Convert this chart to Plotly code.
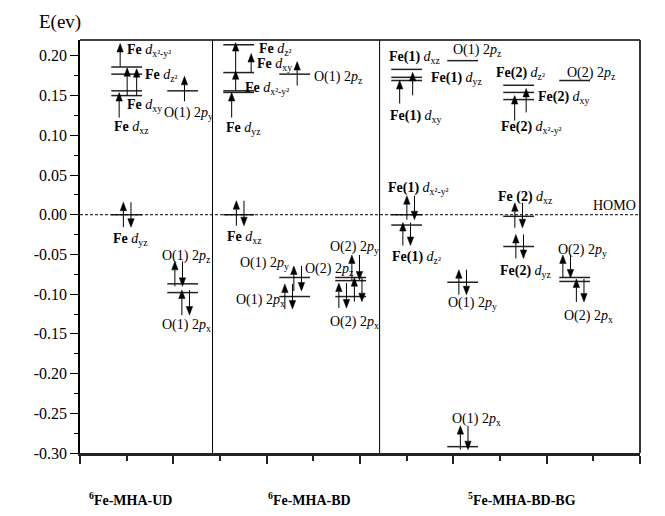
import plotly.graph_objects as go

# ---------------- data ----------------
group_labels = ["<b><sup>6</sup>Fe-MHA-UD</b>", "<b><sup>6</sup>Fe-MHA-BD</b>", "<b><sup>5</sup>Fe-MHA-BD-BG</b>"]
y_tick_values = [0.20, 0.15, 0.10, 0.05, 0.00, -0.05, -0.10, -0.15, -0.20, -0.25, -0.30]
y_tick_labels = ["0.20", "0.15", "0.10", "0.05", "0.00", "-0.05", "-0.10", "-0.15", "-0.20", "-0.25", "-0.30"]

# column index of each level (0-1: UD, 2-4: BD, 5-8: BD-BG)
level_column = [0, 0, 0, 0, 0, 1, 1, 1,
                2, 2, 2, 2, 2, 3, 3, 3, 4, 4, 4,
                5, 5, 5, 5, 5, 6, 6, 6, 7, 7, 7, 7, 7, 8, 8, 8]
level_label = [
    "<b>Fe</b> <i>d</i><sub>x²-y²</sub>", "<b>Fe</b> <i>d</i><sub>z²</sub>", "<b>Fe</b> <i>d</i><sub>xy</sub>",
    "<b>Fe</b> <i>d</i><sub>xz</sub>", "<b>Fe</b> <i>d</i><sub>yz</sub>",
    "O(1) 2<i>p</i><sub>y</sub>", "O(1) 2<i>p</i><sub>z</sub>", "O(1) 2<i>p</i><sub>x</sub>",
    "<b>Fe</b> <i>d</i><sub>z²</sub>", "<b>Fe</b> <i>d</i><sub>xy</sub>", "<b>Fe</b> <i>d</i><sub>x²-y²</sub>",
    "<b>Fe</b> <i>d</i><sub>yz</sub>", "<b>Fe</b> <i>d</i><sub>xz</sub>",
    "O(1) 2<i>p</i><sub>z</sub>", "O(1) 2<i>p</i><sub>y</sub>", "O(1) 2<i>p</i><sub>x</sub>",
    "O(2) 2<i>p</i><sub>y</sub>", "O(2) 2<i>p</i><sub>z</sub>", "O(2) 2<i>p</i><sub>x</sub>",
    "<b>Fe(1)</b> <i>d</i><sub>xz</sub>", "<b>Fe(1)</b> <i>d</i><sub>yz</sub>", "<b>Fe(1)</b> <i>d</i><sub>xy</sub>",
    "<b>Fe(1)</b> <i>d</i><sub>x²-y²</sub>", "<b>Fe(1)</b> <i>d</i><sub>z²</sub>",
    "O(1) 2<i>p</i><sub>z</sub>", "O(1) 2<i>p</i><sub>y</sub>", "O(1) 2<i>p</i><sub>x</sub>",
    "<b>Fe(2)</b> <i>d</i><sub>z²</sub>", "<b>Fe(2)</b> <i>d</i><sub>xy</sub>", "<b>Fe(2)</b> <i>d</i><sub>x²-y²</sub>",
    "<b>Fe (2)</b> <i>d</i><sub>xz</sub>", "<b>Fe(2)</b> <i>d</i><sub>yz</sub>",
    "O(2) 2<i>p</i><sub>z</sub>", "O(2) 2<i>p</i><sub>y</sub>", "O(2) 2<i>p</i><sub>x</sub>",
]
level_energy = [0.186, 0.177, 0.156, 0.150, 0.000, 0.156, -0.087, -0.098,
                0.214, 0.179, 0.156, 0.154, 0.000, 0.177, -0.079, -0.103, -0.079, -0.083, -0.103,
                0.183, 0.173, 0.169, 0.000, -0.013, 0.194, -0.085, -0.292,
                0.163, 0.154, 0.145, -0.002, -0.040, 0.169, -0.079, -0.084]
# occupation: "u" = spin up only, "ud" = paired, "" = empty
level_spin = ["u", "u", "u", "u", "ud", "u", "ud", "ud",
              "u", "u", "u", "u", "ud", "u", "ud", "ud", "ud", "ud", "ud",
              "", "u", "u", "ud", "ud", "", "ud", "ud",
              "", "u", "u", "ud", "ud", "", "ud", "ud"]

# ---------------- layout / style ----------------
column_x = [0.5, 1.1, 1.7, 2.3, 2.9, 3.5, 4.1, 4.7, 5.3]
divider_x = [1.42, 3.21]
group_x = [0.54, 2.455, 4.74]
half_width = 0.165

# label offsets in px relative to level centre (dx right, dy up)
label_offset = [(-2, 18.5), (16, 0.5), (-2, -12.5), (-15, -30), (-16, -22.7), (-21, -20.7), (-23, 29.4), (-23, -30.8),
                (18, -2.3), (16, 10), (4, 4.3), (-15, -33.6), (-14, -21.2), (17, -1.4), (-57, 16), (-61, -1.8),
                (-23, 32), (-47.5, 13.3), (-23, -23.8),
                (-20, 13.9), (22, 0.8), (-19, -33.5), (-20.5, 27.8), (-16.5, -30.4), (-12, 12.6), (-16.5, -19.6),
                (-13, 29.4), (-25, 13.8), (17, -2.8), (-20, -25.9), (-23, 20.4), (-21, -22.6), (-10, 9),
                (-19, 28.8), (-13, -33.2)]
# arrow offsets in px (dx, dy of arrow centre, arrow length)
arrow_offset = [(-6.5, 12, 23), (10, -8, 27), (0.5, 9, 28), (-7.5, -9.5, 25), (0.5, 0, 25), (1.8, 2, 25),
                (-4, 10, 25), (3, -10, 25),
                (-3, -12.8, 30), (12.5, 9.5, 19), (-3, 10, 20), (-7, -12.6, 25), (1.5, 1.5, 25), (2.5, 0.6, 24),
                (3, -1, 25), (-6, 0, 25), (5, 10, 25), (7.5, -9, 24), (-8, 1, 25),
                (0, 0, 0), (6, -6.5, 23), (-7, -11.5, 23), (4, 7, 24), (0, -9, 23), (0, 0, 0), (0, 0, 25),
                (1.5, 9, 24), (0, 0, 0), (7.5, -8, 24), (-4, -8.5, 25), (0, 1, 25), (1, 0, 24), (0, 0, 0),
                (-8, 11, 23), (5.5, -9, 23)]

X_MIN, X_MAX = 0, 6
Y_MIN, Y_MAX = -0.30, 0.22
W, H = 665, 516
ML, MR, MT, MB = 80, 25, 40, 63
PX_X = (X_MAX - X_MIN) / (W - ML - MR)
PX_Y = (Y_MAX - Y_MIN) / (H - MT - MB)

FONT = "Liberation Serif, Times New Roman, serif"

lvl_x, lvl_y = [], []
shaft_x, shaft_y, head_x, head_y = [], [], [], []


def add_arrow(xc, tail, tip):
    d = 1 if tip > tail else -1
    base = tip - d * 8.5 * PX_Y
    shaft_x.extend([xc, xc, None])
    shaft_y.extend([tail, base, None])
    head_x.extend([xc - 3.2 * PX_X, xc + 3.2 * PX_X, xc, xc - 3.2 * PX_X, None])
    head_y.extend([base, base, tip, base, None])


annotations = []
for col, lab, e, spin, (ldx, ldy), (adx, ady, alen) in zip(
        level_column, level_label, level_energy, level_spin, label_offset, arrow_offset):
    cx = column_x[col]
    lvl_x.extend([cx - half_width, cx + half_width, None])
    lvl_y.extend([e, e, None])
    ac = e + ady * PX_Y
    half = alen / 2 * PX_Y
    if spin == "u":
        add_arrow(cx + adx * PX_X, ac - half, ac + half)
    elif spin == "ud":
        add_arrow(cx + (adx - 3.8) * PX_X, ac - half, ac + half)
        add_arrow(cx + (adx + 3.8) * PX_X, ac + half, ac - half)
    annotations.append(dict(x=cx + ldx * PX_X, y=e + (ldy - 2) * PX_Y, text=lab, showarrow=False,
                            xanchor="left", yanchor="middle", xref="x", yref="y",
                            font=dict(family=FONT, size=14, color="black")))

fig = go.Figure()
fig.add_trace(go.Scatter(x=lvl_x, y=lvl_y, mode="lines", line=dict(color="#222", width=1.5),
                         hoverinfo="skip", showlegend=False))
fig.add_trace(go.Scatter(x=shaft_x, y=shaft_y, mode="lines", line=dict(color="black", width=1),
                         hoverinfo="skip", showlegend=False))
fig.add_trace(go.Scatter(x=head_x, y=head_y, mode="lines", fill="toself", fillcolor="black",
                         line=dict(color="black", width=0.5), hoverinfo="skip", showlegend=False))

shapes = [
    dict(type="line", xref="paper", yref="y", x0=0, x1=1, y0=0, y1=0,
         line=dict(color="black", width=1, dash="3px,2px")),
    dict(type="line", xref="paper", yref="paper", x0=0, x1=1, y0=1, y1=1, line=dict(color="black", width=1.3)),
    dict(type="line", xref="paper", yref="paper", x0=1, x1=1, y0=0, y1=1, line=dict(color="#333", width=2)),
]
for dx in divider_x:
    shapes.append(dict(type="line", xref="x", yref="paper", x0=dx, x1=dx, y0=0, y1=1,
                       line=dict(color="black", width=1)))

annotations.append(dict(x=5.48, y=0.0117, text="HOMO", showarrow=False, xanchor="left", yanchor="middle",
                        font=dict(family=FONT, size=14, color="black")))
annotations.append(dict(x=-20 / (W - ML - MR), y=(H - MB - 22) / (H - MT - MB),
                        xref="paper", yref="paper", text="E(ev)", showarrow=False,
                        xanchor="center", yanchor="middle", font=dict(family=FONT, size=19, color="black")))
for gx, gl in zip(group_x, group_labels):
    annotations.append(dict(x=gx, y=-46 / (H - MT - MB), xref="x", yref="paper", text=gl, showarrow=False,
                            xanchor="center", yanchor="middle", font=dict(family=FONT, size=14, color="black")))

fig.update_layout(
    width=W, height=H, margin=dict(l=ML, r=MR, t=MT, b=MB),
    paper_bgcolor="white", plot_bgcolor="white",
    shapes=shapes, annotations=annotations, showlegend=False,
    xaxis=dict(range=[X_MIN, X_MAX], showgrid=False, zeroline=False, showline=True, linecolor="#222",
               linewidth=2.5, ticks="outside", ticklen=8, tickwidth=1.5, tickcolor="#222",
               tickvals=[0, 1, 2, 3, 4, 5, 6], showticklabels=False,
               minor=dict(ticks="outside", ticklen=5, tickwidth=1.5, tickcolor="#222", dtick=0.5, tick0=0,
                          showgrid=False)),
    yaxis=dict(range=[Y_MIN, Y_MAX], showgrid=False, zeroline=False, showline=True, linecolor="black",
               linewidth=1.5, ticks="outside", ticklen=8, tickwidth=1.3, tickcolor="black",
               tickvals=y_tick_values, ticktext=y_tick_labels,
               tickfont=dict(family=FONT, size=16, color="black"),
               minor=dict(ticks="outside", ticklen=4, tickwidth=1.2, tickcolor="black", dtick=0.025, tick0=0,
                          showgrid=False)),
)

fig.write_html("out.html", config={"displayModeBar": False},
               post_script="document.body.style.margin='0px';document.body.style.overflow='hidden';")
